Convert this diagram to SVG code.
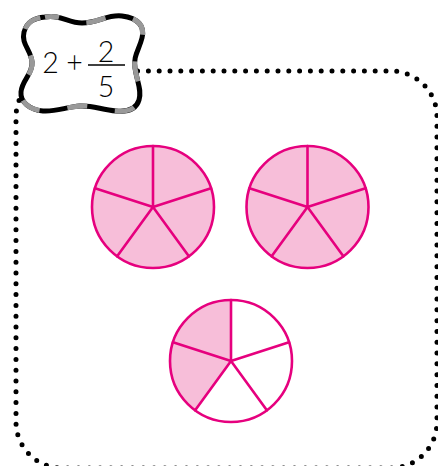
<svg xmlns="http://www.w3.org/2000/svg" xmlns:xlink="http://www.w3.org/1999/xlink" width="438" height="466" viewBox="0 0 438 466">
<style>
.dots{fill:none;stroke:#000;stroke-width:5;stroke-linecap:round;stroke-dasharray:0 10.8}
.rim{fill:none;stroke:#e6007e;stroke-width:2.6}
.full{fill:#f7bed9}
.part{fill:#f7bed9}
.spk{fill:none;stroke:#e6007e;stroke-width:2.6;stroke-linecap:round}
.num{font-family:Lato,"Open Sans",sans-serif;font-weight:300;font-size:28.5px;fill:#000;text-anchor:middle}
</style>
<defs>
<path id="spokes" d="M0 0 L0 -61 M0 0 L58.02 -18.85 M0 0 L35.86 49.35 M0 0 L-35.86 49.35 M0 0 L-58.02 -18.85"/>
<path id="wave" d="M45 17 C60 14 68 23 82 23 C98 23 108 14 122 16 C138 18 145 26 142 38 C139 50 133 56 135 68 C137 82 142 90 139 100 C136 110 126 112 116 111 C102 110 92 105 80 106 C66 107 56 112 43 111 C30 110 20 102 21 92 C22 80 33 74 32 62 C31 50 21 44 24 32 C27 21 35 18 45 17 Z"/>
</defs>
<g id="frame">
<rect class="dots" x="16" y="71" width="421" height="397" rx="46" ry="46"/>
</g>
<g id="label">
<use xlink:href="#wave" href="#wave" fill="#fff" stroke="#000" stroke-width="5"/>
<use xlink:href="#wave" href="#wave" fill="none" stroke="#999" stroke-width="5" stroke-dasharray="20 28" stroke-dashoffset="6"/>
<text class="num" x="50.5" y="73">2</text>
<text class="num" x="74.5" y="73">+</text>
<line x1="88" y1="65" x2="125" y2="65" stroke="#000" stroke-width="1.3"/>
<text class="num" x="106" y="62">2</text>
<text class="num" x="106" y="97">5</text>
</g>
<g id="pie1" transform="translate(153 207)">
<circle class="full" r="61"/>
<use xlink:href="#spokes" href="#spokes" class="spk"/>
<circle class="rim" r="61"/>
</g>
<g id="pie2" transform="translate(307.5 207)">
<circle class="full" r="61"/>
<use xlink:href="#spokes" href="#spokes" class="spk"/>
<circle class="rim" r="61"/>
</g>
<g id="pie3" transform="translate(231 361)">
<circle r="61" fill="#fff"/>
<path class="part" d="M0 0 L-35.86 49.35 A61 61 0 0 1 0 -61 Z"/>
<use xlink:href="#spokes" href="#spokes" class="spk"/>
<circle class="rim" r="61"/>
</g>
</svg>
